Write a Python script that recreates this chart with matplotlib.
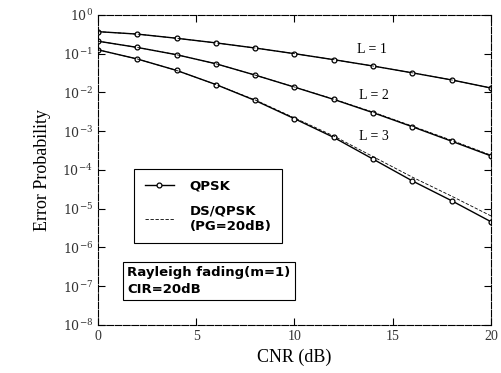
import matplotlib
matplotlib.use("Agg")
import matplotlib.pyplot as plt
import numpy as np

# CNR (dB)
cnr = [0, 2, 4, 6, 8, 10, 12, 14, 16, 18, 20]

# QPSK error probability
qpsk_L1 = [0.37, 0.32, 0.25, 0.19, 0.14, 0.10, 0.07, 0.048, 0.032, 0.021, 0.013]
qpsk_L2 = [0.21, 0.145, 0.094, 0.055, 0.028, 0.0137, 0.0066, 0.003, 0.0013, 5.5e-4, 2.3e-4]
qpsk_L3 = [0.126, 0.073, 0.037, 0.016, 0.0062, 0.0021, 6.9e-4, 1.9e-4, 5.2e-5, 1.6e-5, 4.6e-6]

# DS/QPSK (PG=20dB)
ds_L1 = [0.37, 0.32, 0.25, 0.19, 0.14, 0.10, 0.07, 0.048, 0.032, 0.021, 0.013]
ds_L2 = [0.21, 0.145, 0.094, 0.055, 0.028, 0.0138, 0.0067, 0.0031, 0.00135, 5.8e-4, 2.4e-4]
ds_L3 = [0.126, 0.073, 0.037, 0.016, 0.0064, 0.0022, 7.5e-4, 2.2e-4, 6.5e-5, 2.1e-5, 6.5e-6]

curve_names = ["L=1", "L=2", "L=3"]
yticks = [1e0, 1e-1, 1e-2, 1e-3, 1e-4, 1e-5, 1e-6, 1e-7, 1e-8]
ytick_labels = [r"$10^{0}$", r"$10^{-1}$", r"$10^{-2}$", r"$10^{-3}$", r"$10^{-4}$",
                r"$10^{-5}$", r"$10^{-6}$", r"$10^{-7}$", r"$10^{-8}$"]

plt.rcParams["mathtext.fontset"] = "dejavuserif"

fig = plt.figure(figsize=(5.02, 3.73), dpi=100)
ax = fig.add_axes([0.195, 0.129, 0.783, 0.831])

for q in [qpsk_L1, qpsk_L2, qpsk_L3]:
    ax.plot(cnr, q, "-", color="black", lw=1.0, marker="o", markersize=3.5,
            markerfacecolor="white", markeredgewidth=0.9)
for d in [ds_L1, ds_L2, ds_L3]:
    ax.plot(cnr, d, "--", color="black", lw=0.6, dashes=(4, 2))

ax.set_yscale("log")
ax.set_xlim(0, 20)
ax.set_ylim(1e-8, 1e0)
ax.set_xticks([0, 5, 10, 15, 20])
ax.set_xticklabels(["0", "5", "10", "15", "20"], family="Liberation Serif", fontsize=10, color="#333333")
ax.set_yticks(yticks)
ax.set_yticklabels(ytick_labels, fontsize=9, color="#333333")
ax.yaxis.set_minor_locator(matplotlib.ticker.NullLocator())
ax.tick_params(direction="in", top=True, right=True, length=5, width=0.8)

for s in ax.spines.values():
    s.set_linewidth(0.8)
    s.set_linestyle((0, (6, 1.5)))

ax.set_xlabel("CNR (dB)", family="Liberation Serif", fontsize=13, labelpad=4)
ax.set_ylabel("Error Probability", family="Liberation Serif", fontsize=13, labelpad=8)

# curve labels
ax.text(13.2, 10**-0.97, curve_names[0].replace("=", " = "), family="Liberation Serif", fontsize=10)
ax.text(13.3, 10**-2.17, curve_names[1].replace("=", " = "), family="Liberation Serif", fontsize=10)
ax.text(13.3, 10**-3.22, curve_names[2].replace("=", " = "), family="Liberation Serif", fontsize=10)

# legend
h1, = ax.plot([], [], "-", color="black", lw=1.0, marker="o", markersize=3.5,
              markerfacecolor="white", markeredgewidth=0.9)
h2, = ax.plot([], [], "--", color="black", lw=0.6, dashes=(4, 2))
leg = ax.legend([h1, h2], ["QPSK", "DS/QPSK\n(PG=20dB)"], loc="upper left",
                bbox_to_anchor=(0.076, 0.523), fancybox=False, edgecolor="black",
                framealpha=1, handlelength=2.2, handletextpad=1.2, borderpad=0.8,
                labelspacing=0.9,
                prop={"family": "DejaVu Sans", "size": 9.5, "weight": "bold"})
leg.get_frame().set_linewidth(0.8)

ax.text(0.075, 0.19, "Rayleigh fading(m=1)\nCIR=20dB", transform=ax.transAxes,
        fontsize=9.5, fontweight="bold", va="top", linespacing=1.4,
        bbox=dict(boxstyle="square,pad=0.3", facecolor="white", edgecolor="black", lw=0.8))

fig.savefig("out.png", dpi=100)
